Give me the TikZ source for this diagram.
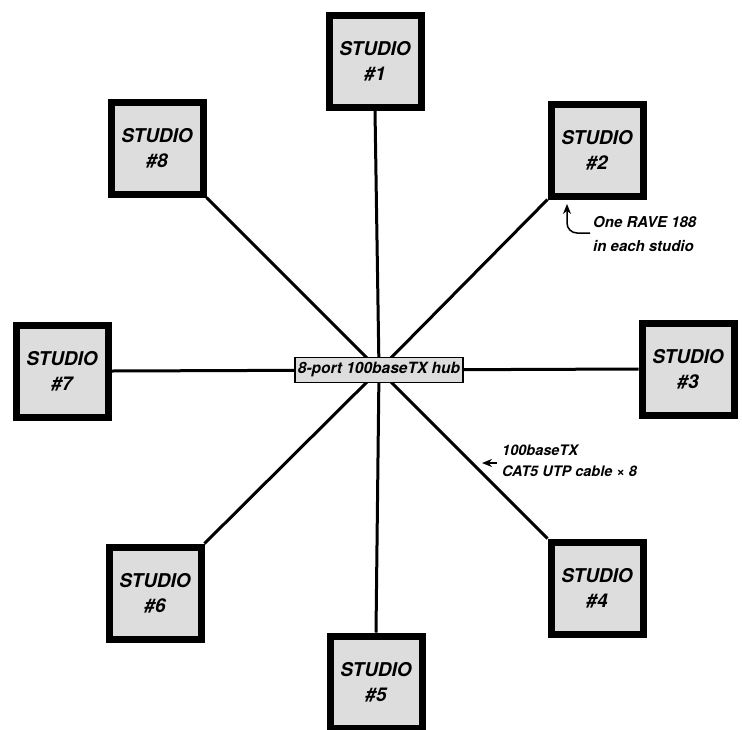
\documentclass[tikz,border=0pt]{standalone}
\usepackage{fontspec}
\setmainfont{TeX Gyre Heros}
\usetikzlibrary{arrows.meta, backgrounds, positioning}
\definecolor{boxgray}{HTML}{DDDDDD}
\tikzset{
  studio/.style={draw=black, fill=boxgray, line width=7pt, minimum width=92pt, minimum height=92pt,
    align=center, inner sep=0pt, font=\fontsize{19}{25}\selectfont\bfseries\itshape},
  hubbox/.style={draw=black, fill=boxgray, line width=1.2pt, minimum height=25pt, inner xsep=3pt,
    font=\fontsize{15.5}{18}\selectfont\bfseries\itshape},
  cable/.style={line width=3pt},
  note/.style={align=left, inner sep=0pt, font=\fontsize{15}{24}\selectfont\bfseries\itshape},
  notearrow/.style={line width=1.5pt, -{Stealth[length=10pt,width=8pt]}}
}
\begin{document}
\begin{tikzpicture}[x=1pt, y=-1pt]
				\useasboundingbox (0,0) rectangle (742,729);
				% Studio boxes
				\node[studio] (S1) at (375,61) {STUDIO\\\#1};
				\node[studio] (S2) at (597,150) {STUDIO\\\#2};
				\node[studio] (S3) at (688,369) {STUDIO\\\#3};
				\node[studio] (S4) at (597,588) {STUDIO\\\#4};
				\node[studio] (S5) at (376,682) {STUDIO\\\#5};
				\node[studio] (S6) at (155,593) {STUDIO\\\#6};
				\node[studio] (S7) at (62,371) {STUDIO\\\#7};
				\node[studio] (S8) at (157,148) {STUDIO\\\#8};
				% Hub
				\node[hubbox] (H) at (379,370) {8-port 100baseTX hub};
				% Cables to the hub
				\begin{scope}[on background layer]
				\draw[cable] (H.center) -- (S1.south);
				\draw[cable] (H.center) -- (S2.south west);
				\draw[cable] (H.center) -- (S3.west);
				\draw[cable] (H.center) -- (S4.north west);
				\draw[cable] (H.center) -- (S5.north);
				\draw[cable] (H.center) -- (S6.north east);
				\draw[cable] (H.center) -- (S7.east);
				\draw[cable] (H.center) -- (S8.south east);
				\end{scope}
				% Notes
				\node[note, anchor=north west] (rave) at (593,216) {One RAVE 188\\in each studio};
				\coordinate (raveTail) at (590,233);
				\coordinate (raveTip) at (567,204);
				\draw[notearrow, rounded corners=10pt] (raveTail) -| (raveTip);
				\node[note, anchor=north west, font=\fontsize{14.5}{21}\selectfont\bfseries\itshape] (cat) at (502,445) {100baseTX\\CAT5 UTP cable × 8};
				\coordinate (catTail) at (497,463);
				\coordinate (catTip) at (482,463);
				\draw[notearrow] (catTail) -- (catTip);
			\end{tikzpicture}
\end{document}
